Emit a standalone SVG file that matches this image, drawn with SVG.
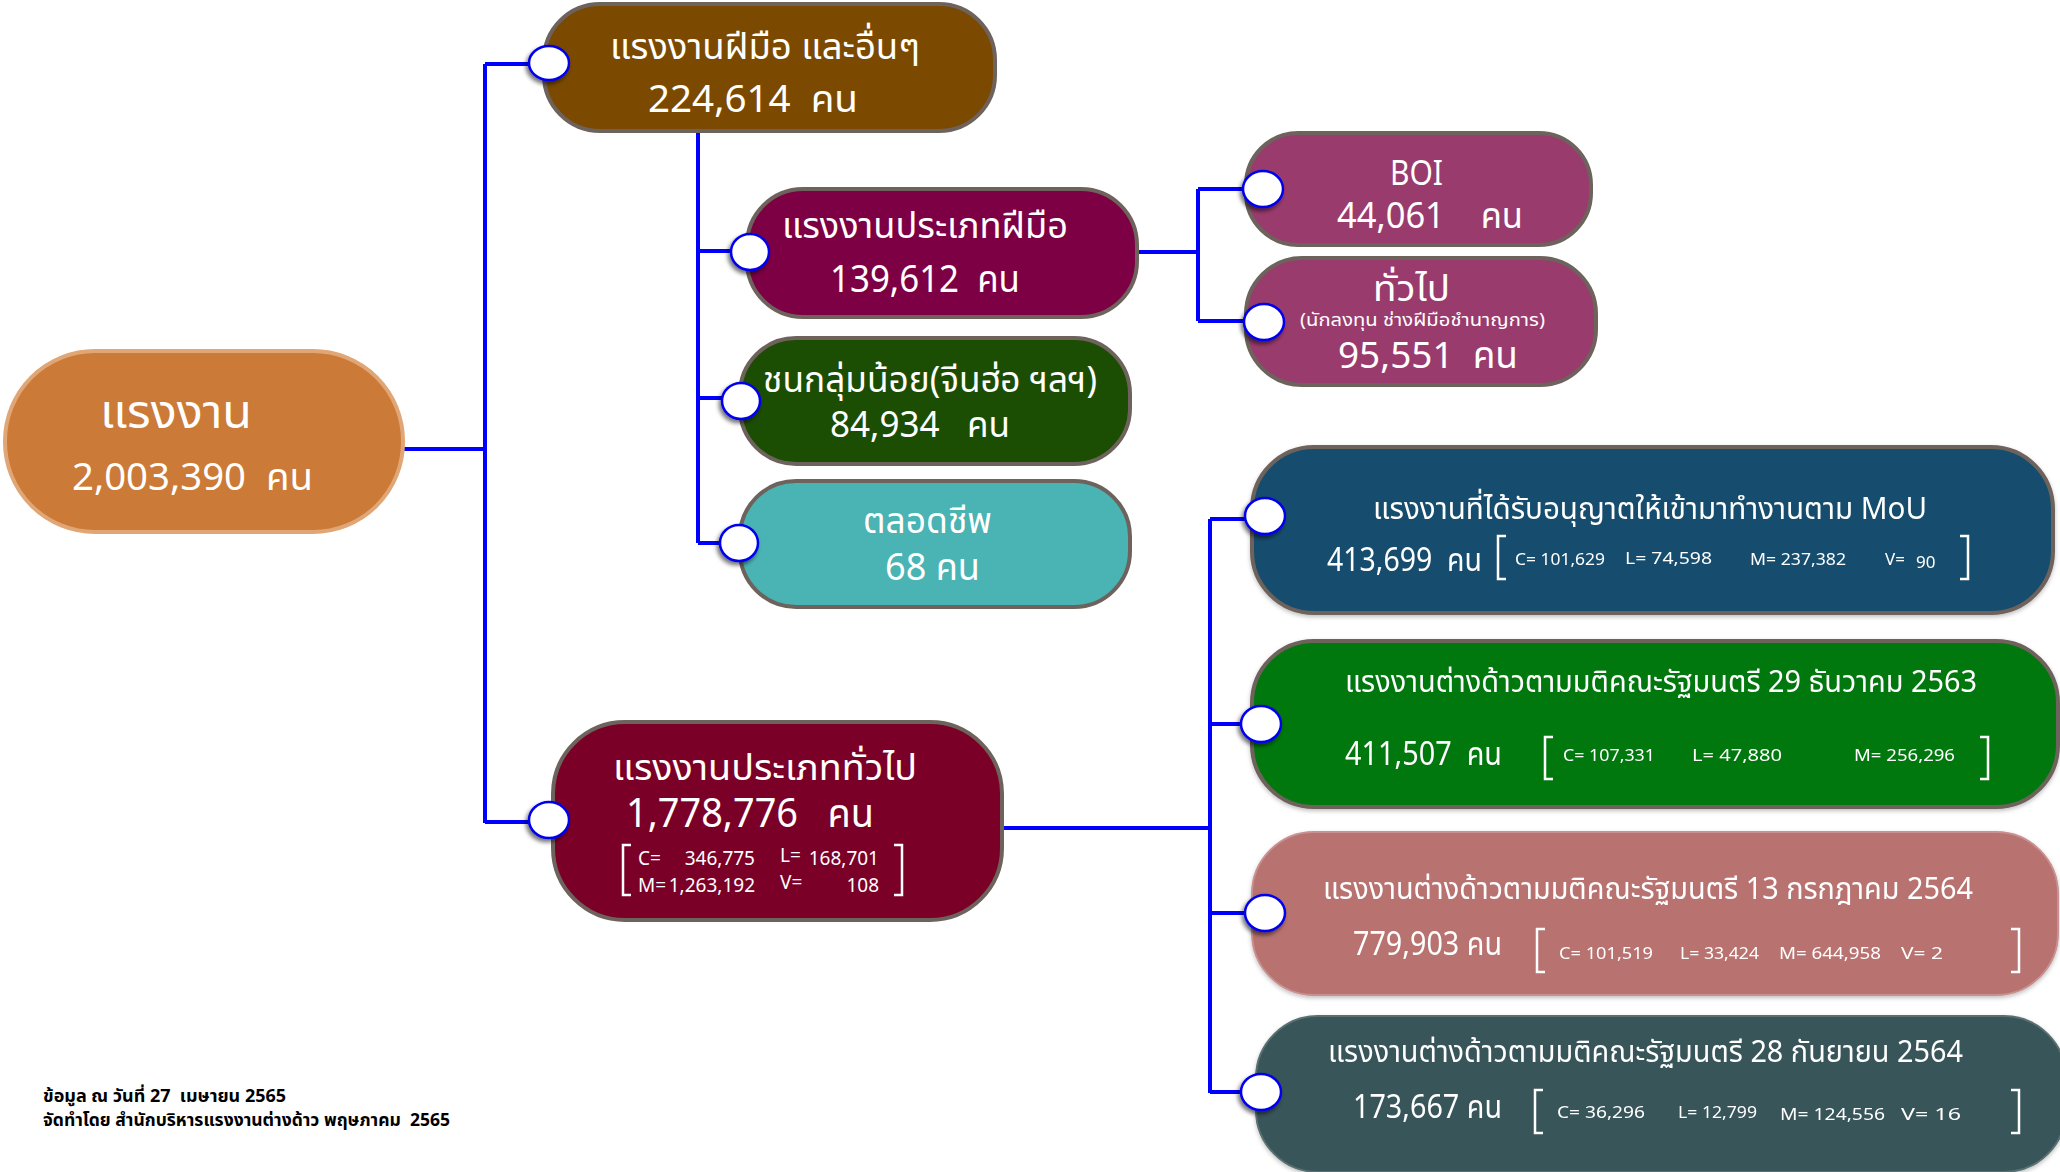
<svg xmlns="http://www.w3.org/2000/svg" width="2060" height="1172" viewBox="0 0 2060 1172">
<style>
.t{font-family:Tahoma,"Noto Sans Thai","Noto Sans","DejaVu Sans",sans-serif;fill:#fff;white-space:pre}
.n{stroke:#6E625C;stroke-width:4}
.ln{fill:none;stroke:#0000FF;stroke-width:4}
.dot{fill:#fff;stroke:#0000EE;stroke-width:2.5;filter:url(#sh)}
.br{fill:none;stroke:#fff;stroke-width:2.5}
.ft{font-family:Tahoma,"Noto Sans Thai","Noto Sans","DejaVu Sans",sans-serif;fill:#000;font-weight:bold;font-size:17px;white-space:pre}
</style>
<defs>
<filter id="sh" x="-50%" y="-50%" width="200%" height="200%">
<feDropShadow dx="-2" dy="3" stdDeviation="2" flood-color="#000" flood-opacity="0.55"/>
</filter>
<filter id="nsh" x="-5%" y="-10%" width="110%" height="120%">
<feDropShadow dx="0" dy="2" stdDeviation="2" flood-color="#000" flood-opacity="0.25"/>
</filter>
</defs>
<rect width="2060" height="1172" fill="#fff"/>

<g id="connectors">
<path class="ln" d="M403,449 H485 M485,64 V823 M485,64 H530 M485,822 H530"/>
<path class="ln" d="M698,131 V543 M698,251 H735 M698,398 H725 M698,543 H722"/>
<path class="ln" d="M1136,252 H1198 M1198,189 V321 M1198,189 H1245 M1198,321 H1246"/>
<path class="ln" d="M1002,828 H1210 M1210,519 V1093 M1210,519 H1248 M1210,724 H1245 M1210,913 H1248 M1210,1092 H1245"/>
</g>

<g id="root">
<rect x="5" y="351" width="398" height="181" rx="90" fill="#CB7A38" stroke="#E0A676" stroke-width="4"/>
<text class="t" x="100" y="428" font-size="46" textLength="152" lengthAdjust="spacingAndGlyphs">แรงงาน</text>
<text class="t" x="72" y="490" font-size="38" textLength="241" lengthAdjust="spacingAndGlyphs">2,003,390  คน</text>
</g>

<g id="n-skilled-other">
<rect class="n" x="544" y="4" width="451" height="127" rx="56" fill="#7B4A00"/>
<text class="t" x="610" y="59" font-size="36" textLength="310" lengthAdjust="spacingAndGlyphs">แรงงานฝีมือ และอื่นๆ</text>
<text class="t" x="648" y="112" font-size="38" textLength="210" lengthAdjust="spacingAndGlyphs">224,614  คน</text>
<ellipse class="dot" cx="549" cy="63" rx="20" ry="17"/>
</g>

<g id="n-skilled">
<rect class="n" x="747" y="189" width="390" height="128" rx="56" fill="#7D0044"/>
<text class="t" x="782" y="238" font-size="36" textLength="286" lengthAdjust="spacingAndGlyphs">แรงงานประเภทฝีมือ</text>
<text class="t" x="830" y="292" font-size="38" textLength="190" lengthAdjust="spacingAndGlyphs">139,612  คน</text>
<ellipse class="dot" cx="750" cy="252" rx="19" ry="18"/>
</g>

<g id="n-boi">
<rect class="n" x="1246" y="133" width="345" height="112" rx="52" fill="#9A3B6E"/>
<text class="t" x="1390" y="185" font-size="34" textLength="53" lengthAdjust="spacingAndGlyphs">BOI</text>
<text class="t" x="1337" y="228" font-size="36" textLength="186" lengthAdjust="spacingAndGlyphs">44,061    คน</text>
<ellipse class="dot" cx="1263" cy="189" rx="20" ry="18"/>
</g>

<g id="n-general-skilled">
<rect class="n" x="1246" y="258" width="350" height="127" rx="56" fill="#9A3B6E"/>
<text class="t" x="1373" y="301" font-size="36" textLength="77" lengthAdjust="spacingAndGlyphs">ทั่วไป</text>
<text class="t" x="1300" y="326" font-size="18" textLength="245" lengthAdjust="spacingAndGlyphs">(นักลงทุน ช่างฝีมือชำนาญการ)</text>
<text class="t" x="1338" y="368" font-size="37" textLength="180" lengthAdjust="spacingAndGlyphs">95,551  คน</text>
<ellipse class="dot" cx="1264" cy="322" rx="20" ry="18"/>
</g>

<g id="n-minority">
<rect class="n" x="740" y="338" width="390" height="126" rx="56" fill="#1B4D02"/>
<text class="t" x="763" y="392" font-size="36" textLength="334" lengthAdjust="spacingAndGlyphs">ชนกลุ่มน้อย(จีนฮ่อ ฯลฯ)</text>
<text class="t" x="830" y="437" font-size="36" textLength="180" lengthAdjust="spacingAndGlyphs">84,934   คน</text>
<ellipse class="dot" cx="741" cy="401" rx="19" ry="18"/>
</g>

<g id="n-lifelong">
<rect class="n" x="740" y="481" width="390" height="126" rx="56" fill="#4AB3B3"/>
<text class="t" x="863" y="533" font-size="36" textLength="129" lengthAdjust="spacingAndGlyphs">ตลอดชีพ</text>
<text class="t" x="885" y="580" font-size="38" textLength="95" lengthAdjust="spacingAndGlyphs">68 คน</text>
<ellipse class="dot" cx="739" cy="543" rx="19" ry="18"/>
</g>

<g id="n-general">
<rect class="n" x="553" y="722" width="449" height="198" rx="72" fill="#7B0028"/>
<text class="t" x="613" y="780" font-size="36" textLength="304" lengthAdjust="spacingAndGlyphs">แรงงานประเภททั่วไป</text>
<text class="t" x="626" y="827" font-size="40" textLength="248" lengthAdjust="spacingAndGlyphs">1,778,776   คน</text>
<path class="br" d="M631,845 H623 V895 H631 M894,845 H902 V895 H894"/>
<g class="t" font-size="19">
<text x="638" y="865">C=</text>
<text x="755" y="865" text-anchor="end">346,775</text>
<text x="780" y="862">L=</text>
<text x="879" y="865" text-anchor="end">168,701</text>
<text x="638" y="892">M=</text>
<text x="755" y="892" text-anchor="end">1,263,192</text>
<text x="780" y="889">V=</text>
<text x="879" y="892" text-anchor="end">108</text>
</g>
<ellipse class="dot" cx="549" cy="820" rx="20" ry="18"/>
</g>

<g id="n-mou" filter="url(#nsh)">
<rect class="n" x="1252" y="447" width="801" height="166" rx="62" fill="#174E6E"/>
<text class="t" x="1373" y="519" font-size="30" textLength="554" lengthAdjust="spacingAndGlyphs">แรงงานที่ได้รับอนุญาตให้เข้ามาทำงานตาม MoU</text>
<text class="t" x="1327" y="571" font-size="32" textLength="155" lengthAdjust="spacingAndGlyphs">413,699  คน</text>
<path class="br" d="M1506,536 H1498 V579 H1506 M1960,536 H1968 V579 H1960"/>
<g class="t" font-size="17">
<text x="1515" y="565" textLength="90" lengthAdjust="spacingAndGlyphs">C= 101,629</text>
<text x="1625" y="564" textLength="87" lengthAdjust="spacingAndGlyphs">L=  74,598</text>
<text x="1750" y="565" textLength="96" lengthAdjust="spacingAndGlyphs">M= 237,382</text>
<text x="1885" y="565">V=</text>
<text x="1916" y="568">90</text>
</g>
</g>
<ellipse class="dot" cx="1265" cy="516" rx="20" ry="18"/>

<g id="n-dec2563" filter="url(#nsh)">
<rect class="n" x="1252" y="641" width="806" height="166" rx="62" fill="#03780F"/>
<text class="t" x="1345" y="692" font-size="30" textLength="632" lengthAdjust="spacingAndGlyphs">แรงงานต่างด้าวตามมติคณะรัฐมนตรี 29 ธันวาคม 2563</text>
<text class="t" x="1345" y="765" font-size="32" textLength="157" lengthAdjust="spacingAndGlyphs">411,507  คน</text>
<path class="br" d="M1553,737 H1545 V779 H1553 M1980,737 H1988 V779 H1980"/>
<g class="t" font-size="17">
<text x="1563" y="761" textLength="92" lengthAdjust="spacingAndGlyphs">C= 107,331</text>
<text x="1692" y="761" textLength="90" lengthAdjust="spacingAndGlyphs">L=   47,880</text>
<text x="1854" y="761" textLength="101" lengthAdjust="spacingAndGlyphs">M=  256,296</text>
</g>
</g>
<ellipse class="dot" cx="1261" cy="724" rx="20" ry="18"/>

<g id="n-jul2564" filter="url(#nsh)">
<rect x="1252" y="832" width="806" height="163" rx="62" fill="#B87270" stroke="#C89090" stroke-width="2"/>
<text class="t" x="1323" y="899" font-size="30" textLength="650" lengthAdjust="spacingAndGlyphs">แรงงานต่างด้าวตามมติคณะรัฐมนตรี 13 กรกฎาคม 2564</text>
<text class="t" x="1353" y="955" font-size="32" textLength="149" lengthAdjust="spacingAndGlyphs">779,903 คน</text>
<path class="br" d="M1545,929 H1537 V972 H1545 M2011,929 H2019 V972 H2011"/>
<g class="t" font-size="17">
<text x="1559" y="959" textLength="94" lengthAdjust="spacingAndGlyphs">C=  101,519</text>
<text x="1680" y="959" textLength="79" lengthAdjust="spacingAndGlyphs">L= 33,424</text>
<text x="1779" y="959" textLength="102" lengthAdjust="spacingAndGlyphs">M=  644,958</text>
<text x="1901" y="959" textLength="42" lengthAdjust="spacingAndGlyphs">V=  2</text>
</g>
</g>
<ellipse class="dot" cx="1265" cy="913" rx="20" ry="18"/>

<g id="n-sep2564" filter="url(#nsh)">
<rect x="1256" y="1016" width="810" height="156" rx="62" fill="#38545A" stroke="#5A7070" stroke-width="2"/>
<text class="t" x="1328" y="1062" font-size="30" textLength="635" lengthAdjust="spacingAndGlyphs">แรงงานต่างด้าวตามมติคณะรัฐมนตรี 28 กันยายน 2564</text>
<text class="t" x="1353" y="1118" font-size="32" textLength="149" lengthAdjust="spacingAndGlyphs">173,667 คน</text>
<path class="br" d="M1543,1090 H1535 V1133 H1543 M2011,1090 H2019 V1133 H2011"/>
<g class="t" font-size="17">
<text x="1557" y="1118" textLength="88" lengthAdjust="spacingAndGlyphs">C=  36,296</text>
<text x="1678" y="1118" textLength="79" lengthAdjust="spacingAndGlyphs">L= 12,799</text>
<text x="1780" y="1120" textLength="105" lengthAdjust="spacingAndGlyphs">M=  124,556</text>
<text x="1901" y="1120" textLength="60" lengthAdjust="spacingAndGlyphs">V=   16</text>
</g>
</g>
<ellipse class="dot" cx="1261" cy="1092" rx="20" ry="18"/>

<g id="footer">
<text class="ft" x="43" y="1102" textLength="243" lengthAdjust="spacingAndGlyphs">ข้อมูล ณ วันที่ 27  เมษายน 2565</text>
<text class="ft" x="43" y="1126" textLength="407" lengthAdjust="spacingAndGlyphs">จัดทำโดย สำนักบริหารแรงงานต่างด้าว พฤษภาคม  2565</text>
</g>
</svg>
